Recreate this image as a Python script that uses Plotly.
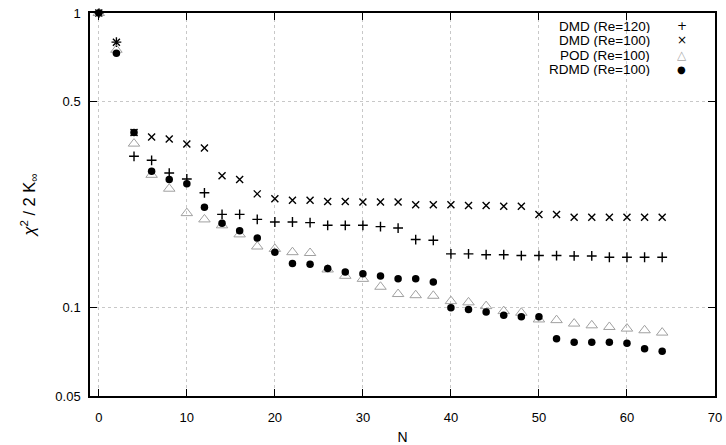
import plotly.graph_objects as go

N = list(range(0, 65, 2))

dmd_re120 = [1.0, 0.796, 0.326, 0.316, 0.286, 0.273, 0.245, 0.207, 0.207, 0.199,
             0.195, 0.195, 0.194, 0.190, 0.190, 0.190, 0.188, 0.186, 0.170, 0.169,
             0.152, 0.152, 0.151, 0.151, 0.150, 0.150, 0.150, 0.1495, 0.1495, 0.148,
             0.148, 0.148, 0.148]

dmd_re100 = [1.0, 0.796, 0.393, 0.379, 0.373, 0.359, 0.348, 0.280, 0.272, 0.243,
             0.234, 0.231, 0.231, 0.229, 0.229, 0.228, 0.228, 0.228, 0.223, 0.223,
             0.223, 0.222, 0.222, 0.2205, 0.2205, 0.2066, 0.2066, 0.2023, 0.2023, 0.2023,
             0.2023, 0.2023, 0.2023]

pod_re100 = [1.0, 0.75, 0.36, 0.282, 0.253, 0.209, 0.199, 0.190, 0.177, 0.161,
             0.158, 0.154, 0.153, 0.1345, 0.128, 0.125, 0.1175, 0.111, 0.110, 0.1095,
             0.105, 0.104, 0.101, 0.0971, 0.0959, 0.091, 0.0905, 0.0881, 0.0869, 0.0858,
             0.0847, 0.0836, 0.0821]

rdmd_re100 = [1.0, 0.73, 0.393, 0.290, 0.272, 0.263, 0.219, 0.193, 0.182, 0.172,
              0.154, 0.141, 0.140, 0.1356, 0.132, 0.130, 0.1277, 0.125, 0.125, 0.122,
              0.0998, 0.0984, 0.0964, 0.094, 0.093, 0.093, 0.0783, 0.0762, 0.0762, 0.0762,
              0.0755, 0.0724, 0.0710]

series_names = ["DMD (Re=120)", "DMD (Re=100)", "POD (Re=100)", "RDMD (Re=100)"]
legend_glyphs = ["+", "×", "△", "●"]

x_ticks = [0, 10, 20, 30, 40, 50, 60, 70]
y_ticks = [0.05, 0.1, 0.5, 1]
y_tick_labels = ["0.05", "0.1", "0.5", "1"]

FONT = "Liberation Sans, Arial, sans-serif"

styles = [
    dict(symbol="cross-thin", size=7, color="black", line=dict(width=1.4, color="black")),
    dict(symbol="x-thin", size=7, color="black", line=dict(width=1.4, color="black")),
    dict(symbol="triangle-up-open", size=10, color="#a0a0a0", line=dict(width=1, color="#a0a0a0")),
    dict(symbol="circle", size=7.5, color="black", line=dict(width=0)),
]
glyph_colors = ["black", "black", "#a8a8a8", "black"]
glyph_sizes = [12, 12, 12, 10]

fig = go.Figure()
for name, ys, st in zip(series_names, [dmd_re120, dmd_re100, pod_re100, rdmd_re100], styles):
    fig.add_trace(go.Scatter(x=N, y=ys, mode="markers", name=name, marker=st,
                             cliponaxis=False, showlegend=False))

# legend drawn as text: label right-aligned, glyph to the right
for i, (name, g) in enumerate(zip(series_names, legend_glyphs)):
    ypos = 0.966 - i * 0.0378
    fig.add_annotation(xref="paper", yref="paper", x=0.897, y=ypos, text=name,
                       showarrow=False, xanchor="right", yanchor="middle",
                       height=14, borderpad=0, valign="middle",
                       font=dict(family=FONT, size=13.5, color="black"))
    fig.add_annotation(xref="paper", yref="paper", x=0.947, y=ypos, text=g,
                       showarrow=False, xanchor="center", yanchor="middle",
                       height=14, borderpad=0, valign="middle",
                       font=dict(family="DejaVu Sans", size=glyph_sizes[i], color=glyph_colors[i]))

fig.update_layout(
    width=726, height=445,
    margin=dict(l=90, r=11, t=13, b=49),
    paper_bgcolor="white", plot_bgcolor="white",
    font=dict(family=FONT, size=13, color="black"),
)
fig.update_xaxes(
    range=[-1, 70], tickvals=x_ticks, ticks="inside", ticklen=7, tickcolor="black",
    showline=True, linecolor="black", linewidth=1.5, mirror="ticks",
    showgrid=True, gridcolor="#c8c8c8", griddash="dot", gridwidth=1, zeroline=False,
    automargin=False, ticklabelstandoff=9,
    title=dict(text="N", font=dict(size=14), standoff=8),
    tickfont=dict(size=13),
)
fig.update_yaxes(
    type="log", range=[-1.30103, 0], tickvals=y_ticks, ticktext=y_tick_labels,
    ticks="inside", ticklen=7, tickcolor="black",
    showline=True, linecolor="black", linewidth=1.5, mirror="ticks",
    showgrid=True, gridcolor="#c8c8c8", griddash="dot", gridwidth=1, zeroline=False,
    automargin=False, ticklabelstandoff=5,
    title=dict(text="<i>χ</i><sup>2</sup> / 2 K<sub>∞</sub>", font=dict(size=16.5), standoff=16),
    tickfont=dict(size=13),
)

fig.write_html("out.html")
